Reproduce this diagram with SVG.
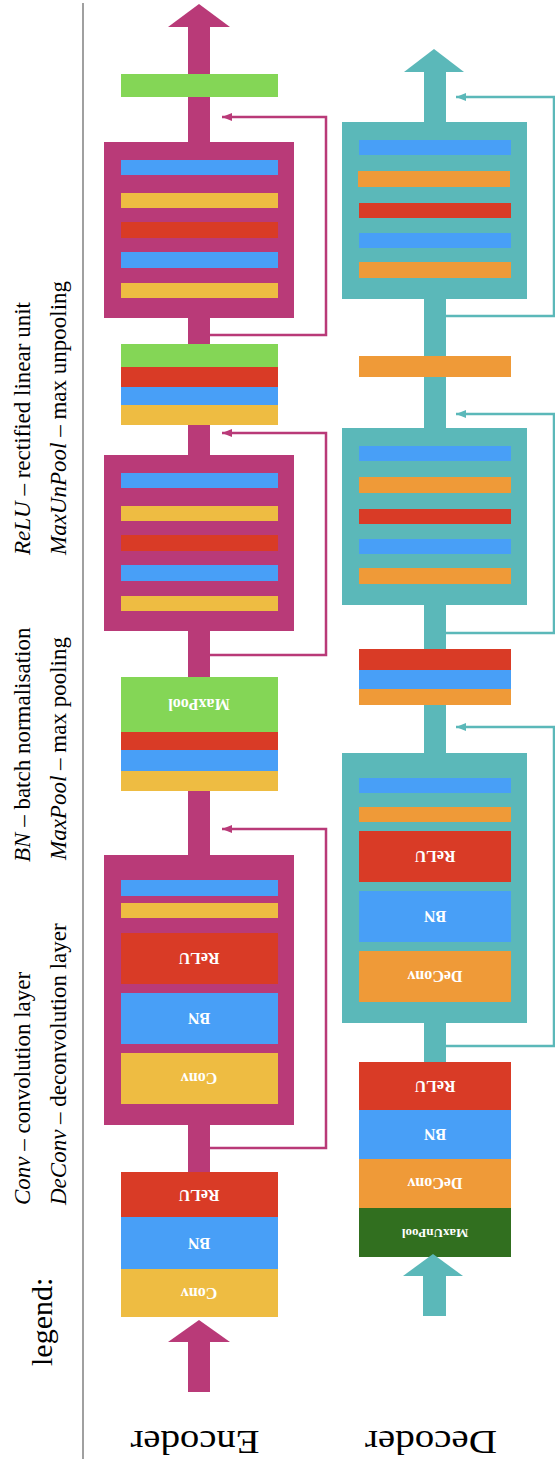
<svg xmlns="http://www.w3.org/2000/svg" width="555" height="1465" viewBox="0 0 555 1465">
<style>
.mag{fill:#B93A78}
.teal{fill:#5BB8B9}
.grn{fill:#84D656}
.red{fill:#D93B26}
.blu{fill:#489FF7}
.yel{fill:#EEBC42}
.org{fill:#EF9A38}
.dgr{fill:#316F1F}
.lbl{font-family:"Liberation Serif",serif;font-weight:bold;font-size:16px;fill:#fff;text-anchor:middle}
.leg{font-family:"Liberation Serif",serif;font-size:23px;fill:#000}
.big{font-family:"Liberation Serif",serif;font-size:34px;fill:#000;text-anchor:middle}
.skm{fill:none;stroke:#B93A78;stroke-width:2.5}
.skt{fill:none;stroke:#5BB8B9;stroke-width:2.5}
</style>
<defs>
<marker id="amag" viewBox="0 0 10 8" refX="10" refY="4" markerWidth="11" markerHeight="8" markerUnits="userSpaceOnUse" orient="auto"><path d="M0,0 L10,4 L0,8 Z" fill="#B93A78"/></marker>
<marker id="ateal" viewBox="0 0 10 8" refX="10" refY="4" markerWidth="10" markerHeight="8" markerUnits="userSpaceOnUse" orient="auto"><path d="M0,0 L10,4 L0,8 Z" fill="#5BB8B9"/></marker>
</defs>

<line x1="83" y1="3" x2="83" y2="1459" stroke="#A0A0A0" stroke-width="2"/>

<g id="legend">
<text class="leg" style="font-size:30px" transform="translate(52,1366) rotate(-90)">legend:</text>
<text class="leg" transform="translate(30,1205) rotate(-90)"><tspan font-style="italic">Conv</tspan> – convolution layer</text>
<text class="leg" transform="translate(30,862) rotate(-90)"><tspan font-style="italic">BN</tspan> – batch normalisation</text>
<text class="leg" transform="translate(30,555) rotate(-90)"><tspan font-style="italic">ReLU</tspan> – rectified linear unit</text>
<text class="leg" transform="translate(66,1205) rotate(-90)"><tspan font-style="italic">DeConv</tspan> – deconvolution layer</text>
<text class="leg" transform="translate(66,860) rotate(-90)"><tspan font-style="italic">MaxPool</tspan> – max pooling</text>
<text class="leg" transform="translate(66,555) rotate(-90)"><tspan font-style="italic">MaxUnPool</tspan> – max unpooling</text>
</g>

<!-- Encoder -->
<g id="encoder-shaft">
<rect class="mag" x="188" y="26" width="22" height="1147"/>
<polygon class="mag" points="199,4 230,27 168,27"/>
</g>
<g id="connectors">
<polyline class="skm" points="210,335 326,335 326,117 222,117" marker-end="url(#amag)"/>
<polyline class="skm" points="210,655 326,655 326,433 222,433" marker-end="url(#amag)"/>
<polyline class="skm" points="210,1148 326,1148 326,829 222,829" marker-end="url(#amag)"/>
<polyline class="skt" points="446,316 554,316 554,97 456,97" marker-end="url(#ateal)"/>
<polyline class="skt" points="446,633 554,633 554,414 456,414" marker-end="url(#ateal)"/>
<polyline class="skt" points="446,1046 554,1046 554,727 456,727" marker-end="url(#ateal)"/>
</g>
<g id="enc-out">
<rect class="grn" x="121" y="74" width="157" height="23"/>
</g>
<g id="enc-block1">
<rect class="mag" x="104" y="142" width="190" height="176"/>
<rect class="blu" x="121" y="160" width="157" height="15"/>
<rect class="yel" x="121" y="193" width="157" height="15"/>
<rect class="red" x="121" y="222" width="157" height="16"/>
<rect class="blu" x="121" y="252" width="157" height="16"/>
<rect class="yel" x="121" y="283" width="157" height="15"/>
</g>
<g id="enc-unpool">
<rect class="grn" x="121" y="344" width="157" height="23"/>
<rect class="red" x="121" y="367" width="157" height="20"/>
<rect class="blu" x="121" y="387" width="157" height="18"/>
<rect class="yel" x="121" y="405" width="157" height="20"/>
</g>
<g id="enc-block2">
<rect class="mag" x="104" y="455" width="190" height="176"/>
<rect class="blu" x="121" y="473" width="157" height="15"/>
<rect class="yel" x="121" y="506" width="157" height="15"/>
<rect class="red" x="121" y="535" width="157" height="16"/>
<rect class="blu" x="121" y="565" width="157" height="16"/>
<rect class="yel" x="121" y="596" width="157" height="15"/>
</g>
<g id="enc-maxpool">
<rect class="grn" x="121" y="677" width="157" height="55"/>
<rect class="red" x="121" y="732" width="157" height="18"/>
<rect class="blu" x="121" y="750" width="157" height="21"/>
<rect class="yel" x="121" y="771" width="157" height="20"/>
<text class="lbl" x="199" y="709" transform="rotate(180 199 704)">MaxPool</text>
</g>
<g id="enc-block3">
<rect class="mag" x="104" y="855" width="190" height="270"/>
<rect class="blu" x="121" y="880" width="157" height="16"/>
<rect class="yel" x="121" y="903" width="157" height="15"/>
<rect class="red" x="121" y="933" width="157" height="51"/>
<rect class="blu" x="121" y="993" width="157" height="51"/>
<rect class="yel" x="121" y="1053" width="157" height="51"/>
<text class="lbl" x="199" y="963" transform="rotate(180 199 958)">ReLU</text>
<text class="lbl" x="199" y="1023" transform="rotate(180 199 1018)">BN</text>
<text class="lbl" x="199" y="1083" transform="rotate(180 199 1078)">Conv</text>
</g>
<g id="enc-input">
<rect class="red" x="121" y="1172" width="157" height="45"/>
<rect class="blu" x="121" y="1217" width="157" height="52"/>
<rect class="yel" x="121" y="1269" width="157" height="48"/>
<text class="lbl" x="199" y="1200" transform="rotate(180 199 1195)">ReLU</text>
<text class="lbl" x="199" y="1248" transform="rotate(180 199 1243)">BN</text>
<text class="lbl" x="199" y="1298" transform="rotate(180 199 1293)">Conv</text>
</g>
<g id="enc-in-arrow">
<polygon class="mag" points="199,1320 230,1342 168,1342"/>
<rect class="mag" x="188" y="1341" width="22" height="51"/>
</g>
<g id="encoder-label">
<text class="big" x="195" y="1431" transform="rotate(180 195 1431)" textLength="129" lengthAdjust="spacingAndGlyphs">Encoder</text>
</g>

<!-- Decoder -->
<g id="decoder-shaft">
<rect class="teal" x="424" y="71" width="22" height="992"/>
<polygon class="teal" points="434,49 464,72 404,72"/>
</g>
<g id="dec-block1">
<rect class="teal" x="342" y="122" width="185" height="177"/>
<rect class="blu" x="359" y="140" width="152" height="15"/>
<rect class="org" x="358" y="171" width="152" height="16"/>
<rect class="red" x="359" y="203" width="152" height="15"/>
<rect class="blu" x="359" y="233" width="152" height="15"/>
<rect class="org" x="359" y="262" width="152" height="16"/>
</g>
<g id="dec-deconv">
<rect class="org" x="359" y="356" width="152" height="21"/>
</g>
<g id="dec-block2">
<rect class="teal" x="342" y="428" width="185" height="177"/>
<rect class="blu" x="359" y="446" width="152" height="15"/>
<rect class="org" x="359" y="477" width="152" height="16"/>
<rect class="red" x="359" y="509" width="152" height="15"/>
<rect class="blu" x="359" y="539" width="152" height="15"/>
<rect class="org" x="359" y="568" width="152" height="16"/>
</g>
<g id="dec-stack">
<rect class="red" x="359" y="649" width="152" height="21"/>
<rect class="blu" x="359" y="670" width="152" height="19"/>
<rect class="org" x="359" y="689" width="152" height="16"/>
</g>
<g id="dec-block3">
<rect class="teal" x="342" y="753" width="185" height="270"/>
<rect class="blu" x="359" y="778" width="152" height="15"/>
<rect class="org" x="359" y="807" width="152" height="15"/>
<rect class="red" x="359" y="831" width="152" height="51"/>
<rect class="blu" x="359" y="891" width="152" height="51"/>
<rect class="org" x="359" y="951" width="152" height="51"/>
<text class="lbl" x="435" y="861" transform="rotate(180 435 856)">ReLU</text>
<text class="lbl" x="435" y="921" transform="rotate(180 435 916)">BN</text>
<text class="lbl" x="435" y="981" transform="rotate(180 435 976)">DeConv</text>
</g>
<g id="dec-input">
<rect class="red" x="359" y="1062" width="152" height="48"/>
<rect class="blu" x="359" y="1110" width="152" height="49"/>
<rect class="org" x="359" y="1159" width="152" height="49"/>
<rect class="dgr" x="359" y="1208" width="152" height="49"/>
<text class="lbl" x="435" y="1091" transform="rotate(180 435 1086)">ReLU</text>
<text class="lbl" x="435" y="1139" transform="rotate(180 435 1134)">BN</text>
<text class="lbl" x="435" y="1188" transform="rotate(180 435 1183)">DeConv</text>
<text class="lbl" style="font-size:13px" x="435" y="1237" transform="rotate(180 435 1233)">MaxUnPool</text>
</g>
<g id="dec-in-arrow">
<polygon class="teal" points="433,1254 463,1276 403,1276"/>
<rect class="teal" x="423" y="1275" width="23" height="41"/>
</g>
<g id="decoder-label">
<text class="big" x="431" y="1431" transform="rotate(180 431 1431)" textLength="132" lengthAdjust="spacingAndGlyphs">Decoder</text>
</g>
</svg>
